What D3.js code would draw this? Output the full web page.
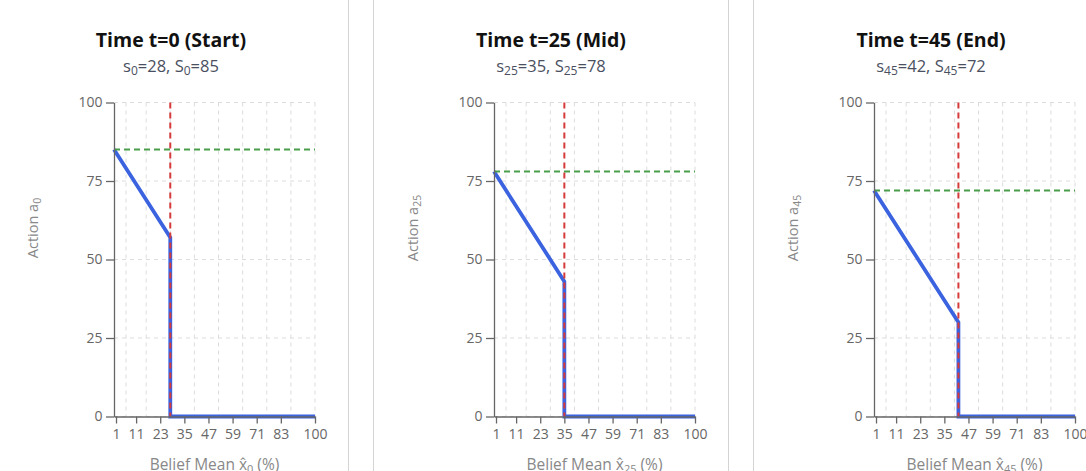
<!DOCTYPE html>
<html>
<head>
<meta charset="utf-8">
<script src="https://cdn.jsdelivr.net/npm/d3@7"></script>
<style>
  html, body { margin: 0; padding: 0; background: #ffffff; overflow: hidden; }
  svg { display: block; font-family: "Open Sans", "Noto Sans", sans-serif; }
</style>
</head>
<body>
<svg id="chart" width="1086" height="471"></svg>
<script>
// ---- data ----
const titles = ["Time t=0 (Start)", "Time t=25 (Mid)", "Time t=45 (End)"];
const timeIdx = ["0", "25", "45"];
const sLow = [28, 35, 42];
const sHigh = [85, 78, 72];
const xTicks = [1, 11, 23, 35, 47, 59, 71, 83, 100];
const yTicks = [0, 25, 50, 75, 100];
const xGrid = [6, 16, 28, 40, 52, 64, 76, 88, 100];
const policy0 = [[0, 85], [28, 57], [28, 0], [100, 0]];
const policy25 = [[0, 78], [35, 43], [35, 0], [100, 0]];
const policy45 = [[0, 72], [42, 30], [42, 0], [100, 0]];
const policies = [policy0, policy25, policy45];

// ---- layout ----
const svg = d3.select("#chart");
const cardStep = 380, cardLeft = -7, cardW = 355;
const plotLeft = 114, plotW = 201, plotTop = 102.5, plotBottom = 416.5;

const x = d3.scaleLinear().domain([0, 100]).range([0, plotW]);
const y = d3.scaleLinear().domain([0, 100]).range([plotBottom - plotTop, 0]);

titles.forEach((title, i) => {
  const ox = cardStep * i;
  // card
  svg.append("rect")
    .attr("x", cardLeft + ox + 0.5).attr("y", -20)
    .attr("width", cardW).attr("height", 520)
    .attr("fill", "#fff").attr("stroke", "#d4d4d4").attr("stroke-width", 1);

  const cx = cardLeft + ox + cardW / 2 + 0.5;
  svg.append("text")
    .attr("x", cx).attr("y", 47)
    .attr("text-anchor", "middle")
    .attr("font-size", 19.5).attr("font-weight", 700).attr("fill", "#111")
    .text(title);

  const sub = svg.append("text")
    .attr("x", cx).attr("y", 72)
    .attr("text-anchor", "middle")
    .attr("font-size", 16.5).attr("fill", "#4a5060");
  const k = timeIdx[i];
  sub.append("tspan").text("s");
  sub.append("tspan").attr("font-size", 12).attr("dy", 3).text(k);
  sub.append("tspan").attr("dy", -3).text("=" + sLow[i] + ", S");
  sub.append("tspan").attr("font-size", 12).attr("dy", 3).text(k);
  sub.append("tspan").attr("dy", -3).text("=" + sHigh[i]);

  const g = svg.append("g").attr("transform", `translate(${plotLeft + ox},${plotTop})`);

  // grid
  g.append("g").selectAll("line").data(yTicks).join("line")
    .attr("x1", 0).attr("x2", plotW)
    .attr("y1", d => y(d)).attr("y2", d => y(d))
    .attr("stroke", "#dcdcdc").attr("stroke-dasharray", "4 4");
  g.append("g").selectAll("line").data(xGrid).join("line")
    .attr("x1", d => x(d)).attr("x2", d => x(d))
    .attr("y1", 0).attr("y2", y(0))
    .attr("stroke", "#dcdcdc").attr("stroke-dasharray", "4 4");

  // policy line
  const line = d3.line().x(d => x(d[0])).y(d => y(d[1]));
  g.append("path").datum(policies[i])
    .attr("d", line)
    .attr("fill", "none").attr("stroke", "#3b63e0").attr("stroke-width", 3.8)
    .attr("stroke-linejoin", "miter");

  // reference lines
  g.append("line")
    .attr("x1", x(sLow[i])).attr("x2", x(sLow[i]))
    .attr("y1", y(100)).attr("y2", y(0))
    .attr("stroke", "#d63b3b").attr("stroke-width", 2).attr("stroke-dasharray", "6 4");
  g.append("line")
    .attr("x1", x(0)).attr("x2", x(100))
    .attr("y1", y(sHigh[i])).attr("y2", y(sHigh[i]))
    .attr("stroke", "#4a9d4a").attr("stroke-width", 2).attr("stroke-dasharray", "6 4");

  // axes
  const xa = g.append("g").attr("transform", `translate(0,${y(0)})`)
    .call(d3.axisBottom(x).tickValues(xTicks).tickSize(7).tickSizeOuter(0).tickPadding(6));
  const ya = g.append("g")
    .call(d3.axisLeft(y).tickValues(yTicks).tickSize(8).tickSizeOuter(0).tickPadding(3.5));
  [xa, ya].forEach(a => {
    a.selectAll("path, line").attr("stroke", "#666").attr("stroke-width", 1.3);
    a.selectAll("text").attr("fill", "#666").attr("font-size", 14)
      .attr("font-family", "\"Open Sans\", \"Noto Sans\", sans-serif");
  });

  // axis titles
  const xl = svg.append("text")
    .attr("x", plotLeft + ox + plotW / 2).attr("y", 470)
    .attr("text-anchor", "middle").attr("font-size", 15.5).attr("fill", "#888");
  xl.append("tspan").text("Belief Mean x\u0302");
  xl.append("tspan").attr("font-size", 11).attr("dy", 3).text(k);
  xl.append("tspan").attr("dy", -3).text(" (%)");

  const yl = svg.append("text")
    .attr("transform", `translate(${38 + ox},228) rotate(-90)`)
    .attr("text-anchor", "middle").attr("font-size", 14.5).attr("fill", "#888");
  yl.append("tspan").text("Action a");
  yl.append("tspan").attr("font-size", 10.5).attr("dy", 3).text(k);
});
</script>
</body>
</html>
